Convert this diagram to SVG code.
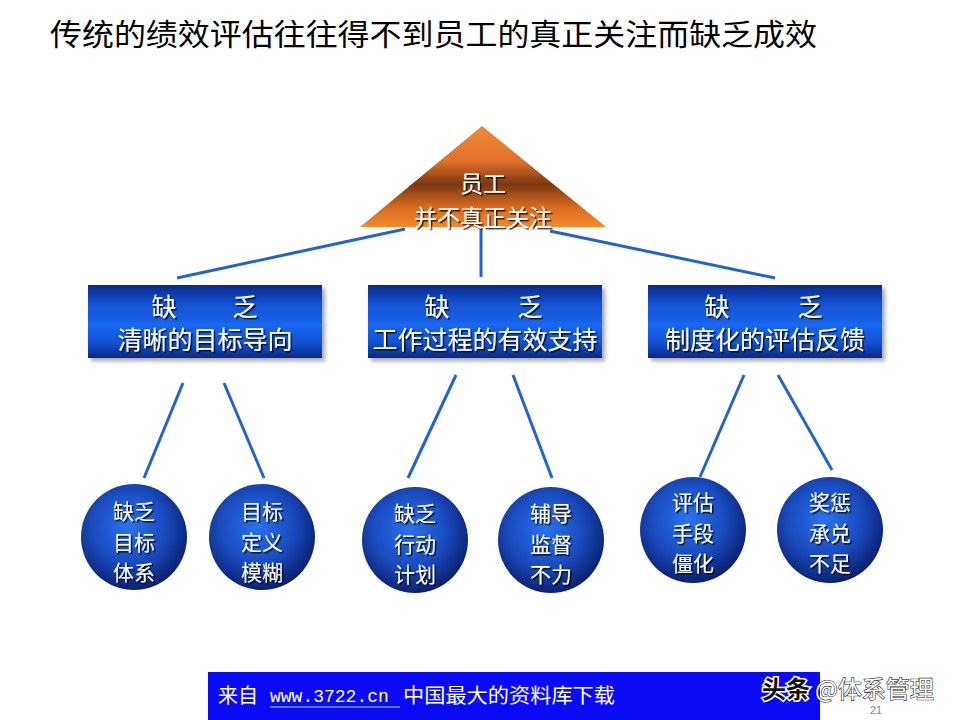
<svg xmlns="http://www.w3.org/2000/svg" width="960" height="720" viewBox="0 0 960 720">
<defs>
<linearGradient id="triG" x1="0" y1="0" x2="0" y2="1">
<stop offset="0" stop-color="#f08a3a"/>
<stop offset="0.35" stop-color="#e0702a"/>
<stop offset="0.58" stop-color="#7a3810"/>
<stop offset="0.8" stop-color="#d86a1e"/>
<stop offset="1" stop-color="#f28a2e"/>
</linearGradient>
<linearGradient id="boxG" x1="0" y1="0" x2="0" y2="1">
<stop offset="0" stop-color="#0a2a8a"/>
<stop offset="0.25" stop-color="#1250d0"/>
<stop offset="0.55" stop-color="#1a68f0"/>
<stop offset="0.8" stop-color="#1250d0"/>
<stop offset="1" stop-color="#0a2a80"/>
</linearGradient>
<radialGradient id="cirG" cx="0.45" cy="0.4" r="0.62">
<stop offset="0" stop-color="#2a72ee"/>
<stop offset="0.55" stop-color="#1a4cc0"/>
<stop offset="1" stop-color="#0a1e6a"/>
</radialGradient>
<filter id="ts" x="-10%" y="-10%" width="130%" height="140%">
<feDropShadow dx="1.5" dy="1.5" stdDeviation="0.6" flood-color="#000" flood-opacity="0.8"/>
</filter>
<filter id="bs" x="-5%" y="-10%" width="115%" height="130%">
<feDropShadow dx="3" dy="3" stdDeviation="2" flood-color="#000" flood-opacity="0.35"/>
</filter>
</defs>
<style>
.t{font-family:"Noto Sans CJK SC","Noto Sans",sans-serif;fill:#fff;text-anchor:middle}
.bt{font-size:25px}
.tt{font-size:23px}
.ct{font-size:21px}
.ln{stroke:#2463c8;stroke-width:3;fill:none}
</style>
<rect width="960" height="720" fill="#fff"/>
<text x="50" y="45" font-family="Noto Sans CJK SC,sans-serif" font-size="30" fill="#000" textLength="767" lengthAdjust="spacingAndGlyphs">传统的绩效评估往往得不到员工的真正关注而缺乏成效</text>

<g id="connectors">
<line class="ln" x1="405" y1="229" x2="177" y2="278"/>
<line class="ln" x1="481" y1="229" x2="481" y2="277"/>
<line class="ln" x1="550" y1="231" x2="775" y2="278"/>
<line class="ln" x1="183" y1="383" x2="144" y2="478"/>
<line class="ln" x1="224" y1="383" x2="264" y2="478"/>
<line class="ln" x1="456" y1="375" x2="408" y2="478"/>
<line class="ln" x1="513" y1="375" x2="552" y2="478"/>
<line class="ln" x1="744" y1="375" x2="700" y2="477"/>
<line class="ln" x1="778" y1="375" x2="832" y2="470"/>
</g>

<g id="top">
<polygon points="482,126 360,227 606,227" fill="url(#triG)"/>
<text class="t tt" filter="url(#ts)"><tspan x="483" y="192">员工</tspan><tspan x="483" y="226">并不真正关注</tspan></text>
</g>

<g id="box1">
<rect x="88" y="285" width="234" height="73" fill="url(#boxG)" filter="url(#bs)"/>
<text class="t bt" filter="url(#ts)"><tspan x="164" y="316">缺</tspan><tspan x="245" y="316">乏</tspan><tspan x="205" y="349">清晰的目标导向</tspan></text>
</g>
<g id="box2">
<rect x="368" y="285" width="234" height="73" fill="url(#boxG)" filter="url(#bs)"/>
<text class="t bt" filter="url(#ts)"><tspan x="437" y="316">缺</tspan><tspan x="530" y="316">乏</tspan><tspan x="485" y="349">工作过程的有效支持</tspan></text>
</g>
<g id="box3">
<rect x="648" y="285" width="234" height="73" fill="url(#boxG)" filter="url(#bs)"/>
<text class="t bt" filter="url(#ts)"><tspan x="717" y="316">缺</tspan><tspan x="810" y="316">乏</tspan><tspan x="765" y="349">制度化的评估反馈</tspan></text>
</g>

<g id="c1">
<circle cx="134" cy="537" r="53" fill="url(#cirG)"/>
<text class="t ct" filter="url(#ts)"><tspan x="134" y="519">缺乏</tspan><tspan x="134" y="549.5">目标</tspan><tspan x="134" y="580">体系</tspan></text>
</g>
<g id="c2">
<circle cx="262" cy="537" r="53" fill="url(#cirG)"/>
<text class="t ct" filter="url(#ts)"><tspan x="262" y="519">目标</tspan><tspan x="262" y="549.5">定义</tspan><tspan x="262" y="580">模糊</tspan></text>
</g>
<g id="c3">
<circle cx="415" cy="540" r="53" fill="url(#cirG)"/>
<text class="t ct" filter="url(#ts)"><tspan x="415" y="521">缺乏</tspan><tspan x="415" y="551.5">行动</tspan><tspan x="415" y="582">计划</tspan></text>
</g>
<g id="c4">
<circle cx="551" cy="540" r="53" fill="url(#cirG)"/>
<text class="t ct" filter="url(#ts)"><tspan x="551" y="521">辅导</tspan><tspan x="551" y="551.5">监督</tspan><tspan x="551" y="582">不力</tspan></text>
</g>
<g id="c5">
<circle cx="693" cy="530" r="53" fill="url(#cirG)"/>
<text class="t ct" filter="url(#ts)"><tspan x="693" y="510">评估</tspan><tspan x="693" y="540.5">手段</tspan><tspan x="693" y="571">僵化</tspan></text>
</g>
<g id="c6">
<circle cx="830" cy="530" r="53" fill="url(#cirG)"/>
<text class="t ct" filter="url(#ts)"><tspan x="830" y="510">奖惩</tspan><tspan x="830" y="540.5">承兑</tspan><tspan x="830" y="571">不足</tspan></text>
</g>

<g id="footer">
<rect x="208" y="672" width="612" height="48" fill="#0a0af5"/>
<text x="218" y="703" font-family="Noto Sans CJK SC,sans-serif" font-size="20" fill="#fff">来自</text>
<text x="270" y="702" font-family="Liberation Mono,monospace" font-size="18" fill="#fff">www.3722.cn</text>
<line x1="270" y1="707" x2="400" y2="707" stroke="#7aa0ff" stroke-width="1.5"/>
<text x="403" y="703" font-family="Noto Sans CJK SC,sans-serif" font-size="20" fill="#fff" textLength="212" lengthAdjust="spacingAndGlyphs">中国最大的资料库下载</text>
</g>
<g id="watermark">
<text x="870" y="714" font-family="Liberation Sans,sans-serif" font-size="11" fill="#888">21</text>
<text x="762" y="698" font-family="Noto Sans CJK SC,sans-serif" font-size="24" font-weight="bold" fill="#111" stroke="#fff" stroke-width="3" paint-order="stroke">头条</text>
<text x="815" y="698" font-family="Noto Sans CJK SC,sans-serif" font-size="24" fill="#fff" stroke="#222" stroke-width="1.2" paint-order="stroke">@体系管理</text>
</g>
</svg>
